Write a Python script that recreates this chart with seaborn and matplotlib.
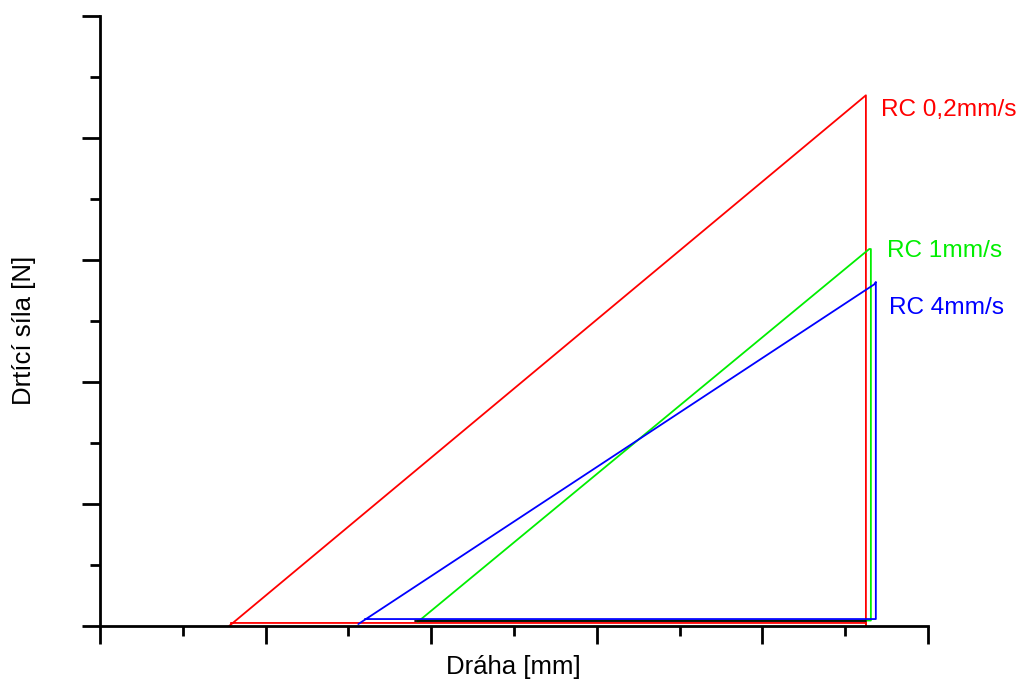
import numpy as np
import pandas as pd
import seaborn as sns
import matplotlib
matplotlib.use("Agg")
import matplotlib.pyplot as plt

# Crushing cycles: loading ramp, drop at the end of travel, return along the baseline
red_x = [1.56, 9.25, 9.25, 9.25, 1.58]
red_y = [0.0, 4.35, 0.0, 0.025, 0.025]

green_x = [3.84, 9.29, 9.31, 9.31, 3.84]
green_y = [0.035, 3.09, 3.09, 0.045, 0.045]

blue_x = [3.12, 9.35, 9.37, 9.37, 3.20]
blue_y = [0.016, 2.80, 2.82, 0.057, 0.057]

base_x = [3.80, 9.25]
base_y = [0.045, 0.045]

labels = ["RC 0,2mm/s", "RC 1mm/s", "RC 4mm/s"]
colors = ["#ff0000", "#00ee00", "#0000ff"]

sns.set_style("ticks")
plt.rcParams["font.family"] = ["Liberation Sans", "DejaVu Sans"]
plt.rcParams["text.color"] = "black"
plt.rcParams["axes.labelcolor"] = "black"

fig = plt.figure(figsize=(10.2, 6.79), dpi=100)
ax = fig.add_axes([100 / 1020, 1 - 626 / 679, 828 / 1020, 610 / 679])

frames = [
    pd.DataFrame({"x": red_x, "y": red_y}),
    pd.DataFrame({"x": green_x, "y": green_y}),
    pd.DataFrame({"x": blue_x, "y": blue_y}),
]
for df, c in zip(frames, colors):
    sns.lineplot(data=df, x="x", y="y", sort=False, estimator=None,
                 color=c, linewidth=1.3, ax=ax, clip_on=False)
sns.lineplot(x=base_x, y=base_y, sort=False, estimator=None,
             color="black", linewidth=1.3, ax=ax, clip_on=False)

# Series labels next to the peaks
label_pos = [(9.43, 4.23), (9.50, 3.07), (9.53, 2.61)]
for (tx, ty), t, c in zip(label_pos, labels, colors):
    ax.text(tx, ty, t, color=c, fontsize=17.6, ha="left", va="center")

ax.set_xlim(0, 10)
ax.set_ylim(0, 5)
ax.set_xticks(np.arange(0, 11, 2))
ax.set_xticks(np.arange(1, 10, 2), minor=True)
ax.set_yticks(np.arange(0, 6, 1))
ax.set_yticks(np.arange(0.5, 5, 1), minor=True)
ax.set_xticklabels([])
ax.set_yticklabels([])
ax.tick_params(which="major", length=13, width=2, color="black", direction="out")
ax.tick_params(which="minor", length=7, width=2, color="black", direction="out")

for s in ["top", "right"]:
    ax.spines[s].set_visible(False)
for s in ["left", "bottom"]:
    ax.spines[s].set_linewidth(2)
    ax.spines[s].set_color("black")

ax.set_xlabel("Dráha [mm]", fontsize=18.5, color="black")
ax.set_ylabel("Drtící síla [N]", fontsize=18.5, color="black")
ax.xaxis.set_label_coords(0.499, -0.047)
ax.yaxis.set_label_coords(-0.077, 0.485)

fig.savefig("out.png", dpi=100)
